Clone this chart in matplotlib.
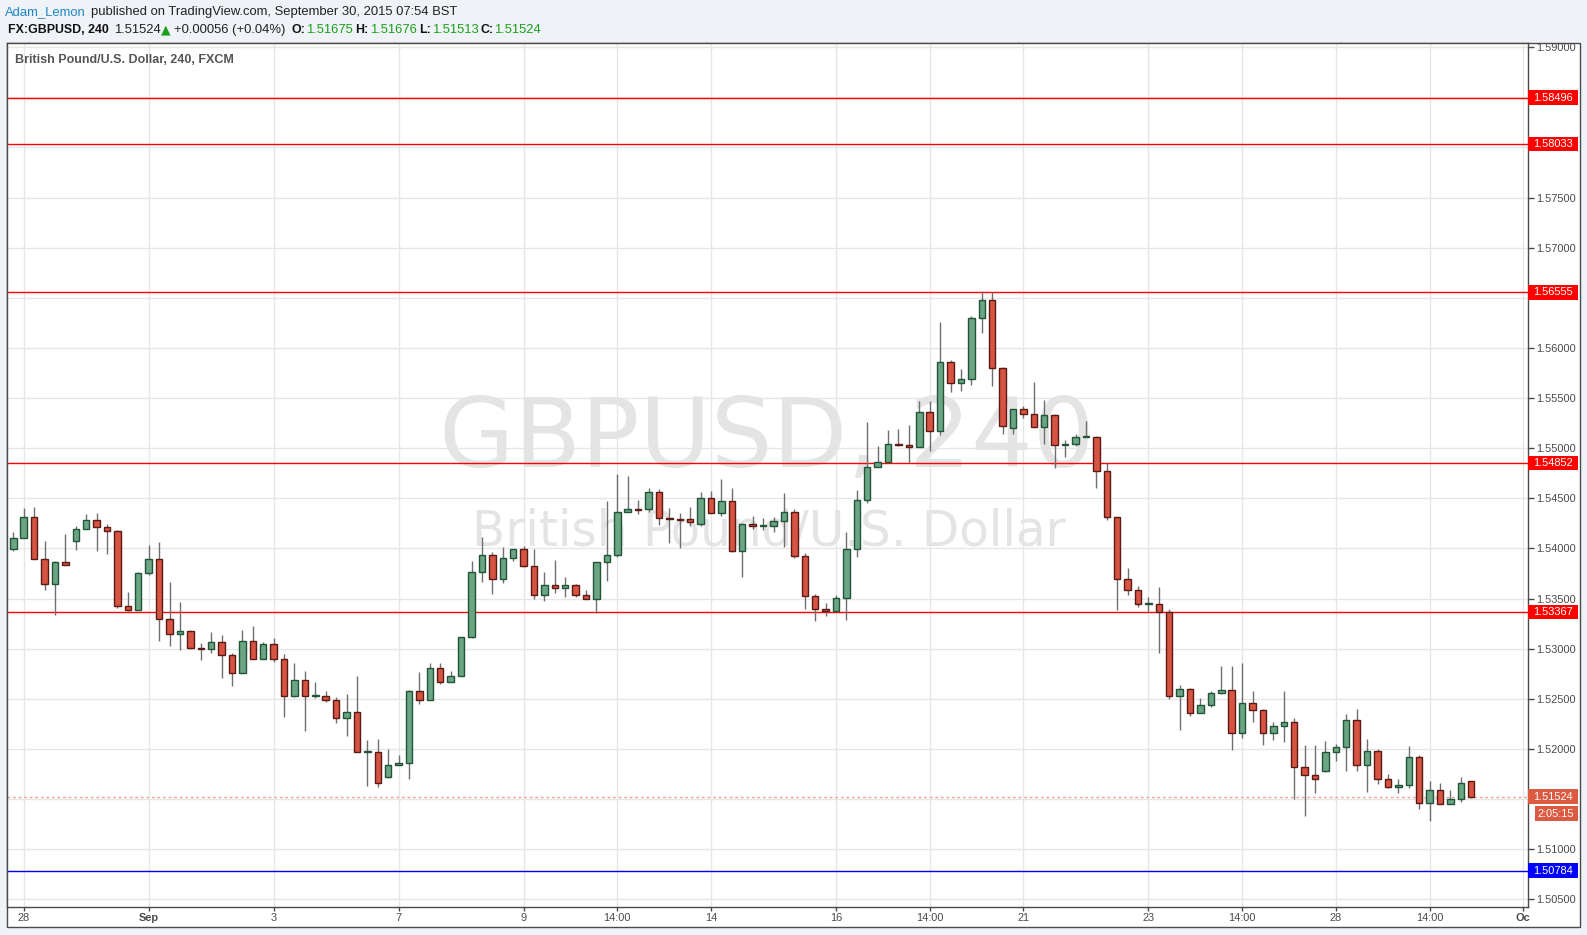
import numpy as np
import matplotlib
matplotlib.use("Agg")
import matplotlib.pyplot as plt
from matplotlib.patches import Rectangle
from matplotlib.transforms import blended_transform_factory

# GBPUSD 4h candles, Aug 28 - Sep 30 2015
opens = [
    1.5399, 1.5410, 1.5431, 1.5389, 1.5365, 1.5386, 1.5407, 1.5419, 1.5428, 1.5421,
    1.5417, 1.5343, 1.5339, 1.5375, 1.5389, 1.5330, 1.5315, 1.5318, 1.5301, 1.5300,
    1.5307, 1.5294, 1.5276, 1.5308, 1.5290, 1.5305, 1.5290, 1.5253, 1.5269, 1.5253,
    1.5253, 1.5249, 1.5231, 1.5237, 1.5197, 1.5197, 1.5172, 1.5184, 1.5186, 1.5258,
    1.5249, 1.5281, 1.5267, 1.5273, 1.5312, 1.5376, 1.5393, 1.5370, 1.5390, 1.5399,
    1.5382, 1.5354, 1.5364, 1.5361, 1.5364, 1.5354, 1.5350, 1.5386, 1.5393, 1.5436,
    1.5439, 1.5439, 1.5456, 1.5430, 1.5429, 1.5429, 1.5424, 1.5450, 1.5435, 1.5447,
    1.5397, 1.5424, 1.5422, 1.5422, 1.5427, 1.5436, 1.5392, 1.5353, 1.5340, 1.5338,
    1.5351, 1.5399, 1.5448, 1.5481, 1.5486, 1.5504, 1.5503, 1.5501, 1.5536, 1.5517,
    1.5586, 1.5565, 1.5569, 1.5630, 1.5648, 1.5580, 1.5520, 1.5539, 1.5534, 1.5521,
    1.5533, 1.5503, 1.5504, 1.5511, 1.5511, 1.5477, 1.5431, 1.5370, 1.5359, 1.5345,
    1.5345, 1.5337, 1.5253, 1.5260, 1.5236, 1.5244, 1.5256, 1.5259, 1.5216, 1.5246,
    1.5239, 1.5216, 1.5223, 1.5227, 1.5182, 1.5174, 1.5178, 1.5197, 1.5202, 1.5229,
    1.5184, 1.5198, 1.5170, 1.5162, 1.5164, 1.5192, 1.5146, 1.5159, 1.5145, 1.5150,
    1.51675,
]
highs = [
    1.5416, 1.5440, 1.5441, 1.5407, 1.5387, 1.5414, 1.5422, 1.5434, 1.5435, 1.5424,
    1.5418, 1.5357, 1.5376, 1.5403, 1.5406, 1.5367, 1.5347, 1.5319, 1.5306, 1.5317,
    1.5314, 1.5296, 1.5319, 1.5323, 1.5307, 1.5311, 1.5295, 1.5286, 1.5278, 1.5267,
    1.5258, 1.5252, 1.5255, 1.5273, 1.5209, 1.5210, 1.5200, 1.5194, 1.5259, 1.5277,
    1.5286, 1.5286, 1.5278, 1.5312, 1.5387, 1.5411, 1.5396, 1.5401, 1.5399, 1.5402,
    1.5399, 1.5376, 1.5388, 1.5371, 1.5365, 1.5359, 1.5386, 1.5447, 1.5474, 1.5472,
    1.5448, 1.5460, 1.5459, 1.5440, 1.5435, 1.5441, 1.5456, 1.5457, 1.5469, 1.5460,
    1.5425, 1.5432, 1.5430, 1.5431, 1.5455, 1.5439, 1.5395, 1.5355, 1.5346, 1.5354,
    1.5416, 1.5458, 1.5526, 1.5502, 1.5518, 1.5519, 1.5523, 1.5547, 1.5547, 1.5626,
    1.5588, 1.5579, 1.5632, 1.5657, 1.5656, 1.5581, 1.5539, 1.5542, 1.5566, 1.5548,
    1.5534, 1.5508, 1.5514, 1.5527, 1.5512, 1.5485, 1.5431, 1.5380, 1.5363, 1.5352,
    1.5362, 1.5340, 1.5264, 1.5261, 1.5251, 1.5258, 1.5283, 1.5283, 1.5286, 1.5258,
    1.5240, 1.5227, 1.5258, 1.5231, 1.5204, 1.5204, 1.5208, 1.5205, 1.5235, 1.5240,
    1.5210, 1.5200, 1.5175, 1.5170, 1.5203, 1.5194, 1.5168, 1.5166, 1.5159, 1.5172,
    1.51676,
]
lows = [
    1.5397, 1.5410, 1.5389, 1.5359, 1.5334, 1.5383, 1.5398, 1.5419, 1.5397, 1.5394,
    1.5341, 1.5338, 1.5339, 1.5373, 1.5308, 1.5303, 1.5299, 1.5300, 1.5289, 1.5296,
    1.5271, 1.5263, 1.5276, 1.5290, 1.5290, 1.5287, 1.5232, 1.5252, 1.5218, 1.5251,
    1.5247, 1.5226, 1.5213, 1.5197, 1.5163, 1.5162, 1.5171, 1.5184, 1.5170, 1.5245,
    1.5249, 1.5265, 1.5267, 1.5273, 1.5311, 1.5367, 1.5355, 1.5366, 1.5387, 1.5381,
    1.5350, 1.5348, 1.5356, 1.5352, 1.5352, 1.5350, 1.5336, 1.5368, 1.5391, 1.5436,
    1.5434, 1.5436, 1.5423, 1.5405, 1.5400, 1.5422, 1.5422, 1.5435, 1.5432, 1.5396,
    1.5371, 1.5419, 1.5418, 1.5416, 1.5401, 1.5390, 1.5340, 1.5328, 1.5333, 1.5338,
    1.5329, 1.5391, 1.5445, 1.5481, 1.5486, 1.5502, 1.5485, 1.5501, 1.5497, 1.5513,
    1.5556, 1.5557, 1.5563, 1.5615, 1.5562, 1.5514, 1.5514, 1.5530, 1.5521, 1.5504,
    1.5480, 1.5491, 1.5502, 1.5511, 1.5460, 1.5428, 1.5339, 1.5354, 1.5342, 1.5337,
    1.5296, 1.5250, 1.5219, 1.5233, 1.5236, 1.5242, 1.5255, 1.5199, 1.5211, 1.5227,
    1.5204, 1.5209, 1.5207, 1.5150, 1.5133, 1.5156, 1.5177, 1.5188, 1.5178, 1.5178,
    1.5157, 1.5165, 1.5161, 1.5156, 1.5161, 1.5140, 1.5128, 1.5145, 1.5145, 1.5147,
    1.51513,
]
closes = [
    1.5410, 1.5431, 1.5389, 1.5365, 1.5386, 1.5383, 1.5419, 1.5428, 1.5421, 1.5417,
    1.5343, 1.5339, 1.5375, 1.5389, 1.5330, 1.5315, 1.5318, 1.5301, 1.5300, 1.5307,
    1.5294, 1.5276, 1.5308, 1.5290, 1.5305, 1.5290, 1.5253, 1.5269, 1.5253, 1.5254,
    1.5249, 1.5231, 1.5237, 1.5197, 1.5198, 1.5166, 1.5184, 1.5186, 1.5258, 1.5249,
    1.5281, 1.5267, 1.5273, 1.5312, 1.5376, 1.5393, 1.5370, 1.5390, 1.5399, 1.5382,
    1.5354, 1.5364, 1.5361, 1.5364, 1.5354, 1.5350, 1.5386, 1.5393, 1.5436, 1.5439,
    1.5438, 1.5456, 1.5430, 1.5429, 1.5428, 1.5426, 1.5450, 1.5435, 1.5447, 1.5397,
    1.5424, 1.5422, 1.5423, 1.5427, 1.5436, 1.5392, 1.5353, 1.5340, 1.5338, 1.5351,
    1.5399, 1.5448, 1.5481, 1.5486, 1.5504, 1.5503, 1.5501, 1.5536, 1.5517, 1.5586,
    1.5565, 1.5569, 1.5630, 1.5648, 1.5580, 1.5522, 1.5539, 1.5534, 1.5521, 1.5533,
    1.5503, 1.5504, 1.5511, 1.5512, 1.5477, 1.5431, 1.5370, 1.5359, 1.5345, 1.5346,
    1.5337, 1.5253, 1.5260, 1.5236, 1.5244, 1.5256, 1.5259, 1.5216, 1.5246, 1.5239,
    1.5216, 1.5223, 1.5227, 1.5182, 1.5174, 1.5170, 1.5197, 1.5202, 1.5229, 1.5184,
    1.5198, 1.5170, 1.5162, 1.5164, 1.5192, 1.5146, 1.5159, 1.5145, 1.5150, 1.5166,
    1.51524,
]

tick_pos = [1, 13, 25, 37, 49, 58, 67, 79, 88, 97, 109, 118, 127, 136, 145]
tick_labels = ["28", "Sep", "3", "7", "9", "14:00", "14", "16", "14:00", "21",
               "23", "14:00", "28", "14:00", "Oc"]

red_levels = [1.58496, 1.58033, 1.56555, 1.54852, 1.53367]
blue_level = 1.50784
last_price = 1.51524
timer_text = "2:05:15"
hidden_ticks = [1.585, 1.580, 1.565, 1.515]

W, H = 1587, 935
FONT = "Liberation Sans"
GREEN, GREEN_EDGE = "#6ba583", "#225437"
RED, RED_EDGE = "#d75442", "#5b1a13"
WICK = "#6f6f71"
AXIS = "#4a4a4a"


def fx(px):
    return px / W


def fy(py):
    return 1 - py / H


fig = plt.figure(figsize=(W / 100, H / 100), dpi=100)
fig.patch.set_facecolor("#eff2f6")

# white chart panel (plot + price scale + time scale)
panel = Rectangle((fx(7), fy(927)), fx(1580) - fx(7), fy(43.3) - fy(927),
                  transform=fig.transFigure, facecolor="white", edgecolor=AXIS,
                  lw=1, zorder=-1)
fig.add_artist(panel)

ax_l, ax_r, ax_t, ax_b = 7, 1528.3, 43.3, 906.7
ax = fig.add_axes([fx(ax_l), fy(ax_b), fx(ax_r) - fx(ax_l), fy(ax_t) - fy(ax_b)])
ymin, ymax = 1.50426, 1.59039
ax.set_xlim(-0.605, 145.48)
ax.set_ylim(ymin, ymax)
px2data = (ymax - ymin) / (ax_b - ax_t)

o = np.array(opens)
h = np.array(highs)
l = np.array(lows)
c = np.array(closes)
x = np.arange(len(o))
up = c >= o

# wicks, then bodies
ax.vlines(x, l, h, color=WICK, lw=1, zorder=2)
body_lo = np.minimum(o, c)
body_h = np.maximum(np.abs(c - o), px2data * 0.8)
ax.bar(x[up], body_h[up], bottom=body_lo[up], width=0.62, color=GREEN,
       edgecolor=GREEN_EDGE, lw=1, zorder=3)
ax.bar(x[~up], body_h[~up], bottom=body_lo[~up], width=0.62, color=RED,
       edgecolor=RED_EDGE, lw=1, zorder=3)

# horizontal levels
for lv in red_levels:
    ax.axhline(lv, color="#ff0000", lw=1, zorder=1.6)
ax.axhline(blue_level, color="#0000ff", lw=1, zorder=1.6)
ax.axhline(last_price, color="#f2a393", lw=1, ls=(0, (2, 2)), zorder=1.6)

# grid / axes styling
yt = np.round(np.arange(1.505, 1.5901, 0.005), 3)
ax.set_yticks(yt)
ax.set_yticklabels(["" if any(abs(v - hv) < 1e-6 for hv in hidden_ticks) else f"{v:.5f}"
                    for v in yt])
ax.yaxis.tick_right()
ax.set_xticks(tick_pos)
ax.set_xticklabels(tick_labels)
ax.grid(True, color="#e6e6e6", lw=1)
ax.set_axisbelow(True)
ax.tick_params(axis="y", length=4, width=1, color=AXIS, pad=1.5,
               labelsize=7.9, labelcolor=AXIS)
ax.tick_params(axis="x", length=3, width=1, color=AXIS, pad=1.5,
               labelsize=7.9, labelcolor=AXIS)
for t in ax.get_yticklabels() + ax.get_xticklabels():
    t.set_fontfamily(FONT)
for t in ax.get_xticklabels():
    if t.get_text() in ("Sep", "Oc"):
        t.set_fontweight("bold")
for sp in ax.spines.values():
    sp.set_color(AXIS)
    sp.set_linewidth(1)

# watermark
ax.text(fx(767), fy(441), "GBPUSD, 240", transform=fig.transFigure,
        ha="center", va="center", fontsize=70, color="#e4e4e4",
        family="DejaVu Sans", zorder=0.8)
ax.text(fx(769), fy(532), "British Pound/U.S. Dollar", transform=fig.transFigure,
        ha="center", va="center", fontsize=35, color="#e4e4e4",
        family="DejaVu Sans", zorder=0.8)

# chart title inside plot
ax.text(fx(15), fy(60), "British Pound/U.S. Dollar, 240, FXCM", transform=fig.transFigure,
        ha="left", va="center", fontsize=9, color="#555555", family=FONT,
        fontweight="bold", zorder=5)

# price scale labels
trans = blended_transform_factory(fig.transFigure, ax.transData)
box_h = 14.7 * px2data


def price_box(level, color, text, x0=1528.3, tx=1533.3):
    r = Rectangle((fx(x0), level - box_h / 2), fx(1577.7) - fx(x0), box_h,
                  transform=trans, facecolor=color, edgecolor="none", zorder=2)
    fig.add_artist(r)
    fig.text(fx(tx), level, text, transform=trans, ha="left", va="center",
             fontsize=7.9, color="white", family=FONT, zorder=3)


for lv in red_levels:
    price_box(lv, "#ff0000", f"{lv:.5f}")
price_box(blue_level, "#0000ff", f"{blue_level:.5f}")
price_box(last_price, "#db5a41", f"{last_price:.5f}")
timer_y = ymax - (813.5 - ax_t) * px2data
price_box(timer_y, "#db5a41", timer_text, x0=1535, tx=1537)

# header
fig.text(fx(5.4), fy(12.5), "Adam_Lemon", ha="left", va="center", fontsize=9.4,
         color="#1f87c4", family=FONT)
fig.text(fx(91), fy(12.5), "published on TradingView.com, September 30, 2015 07:54 BST",
         ha="left", va="center", fontsize=9.4, color="#222222", family=FONT)

hdr = [
    (7.7, "FX:GBPUSD, 240", "#111111", "bold", 8.9),
    (113.8, "1.51524", "#222222", "normal", 9.4),
    (174.3, "+0.00056 (+0.04%)", "#222222", "normal", 9.4),
    (291, "O:", "#111111", "bold", 8.9),
    (306.5, "1.51675", "#1aa01a", "normal", 9.4),
    (355.5, "H:", "#111111", "bold", 8.9),
    (369.7, "1.51676", "#1aa01a", "normal", 9.4),
    (418.8, "L:", "#111111", "bold", 8.9),
    (431.8, "1.51513", "#1aa01a", "normal", 9.4),
    (480.8, "C:", "#111111", "bold", 8.9),
    (494.3, "1.51524", "#1aa01a", "normal", 9.4),
]
for px, s, col, wt, fs in hdr:
    fig.text(fx(px), fy(30), s, ha="left", va="center", fontsize=fs, color=col,
             family=FONT, fontweight=wt)
fig.text(fx(160.5), fy(30), "\u25b2", ha="left", va="center", fontsize=9,
         color="#1aa01a", family="DejaVu Sans")

fig.savefig("out.png", dpi=100, facecolor=fig.get_facecolor())
